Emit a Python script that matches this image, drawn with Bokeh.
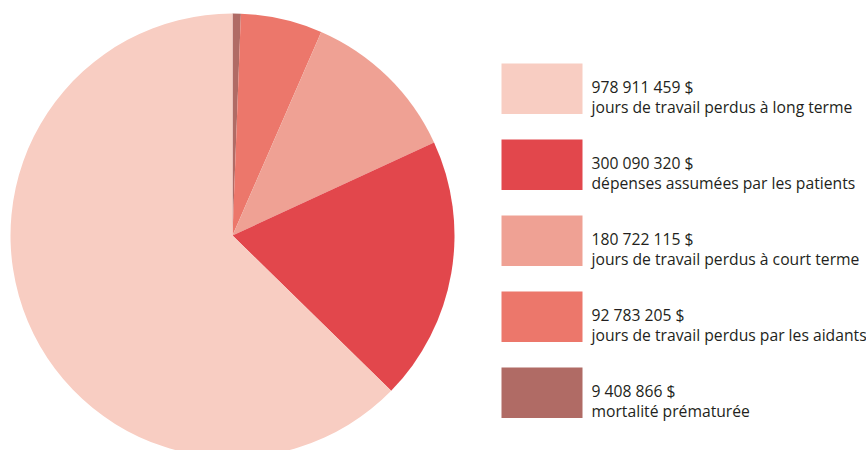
import numpy as np
from bokeh.plotting import figure
from bokeh.models import Range1d, ColumnDataSource
from bokeh.core.properties import value
from bokeh.embed import file_html
from bokeh.resources import INLINE

amounts = [978911459, 300090320, 180722115, 92783205, 9408866]
amount_labels = ["978 911 459 $", "300 090 320 $", "180 722 115 $", "92 783 205 $", "9 408 866 $"]
descriptions = ["jours de travail perdus à long terme",
                "dépenses assumées par les patients",
                "jours de travail perdus à court terme",
                "jours de travail perdus par les aidants",
                "mortalité prématurée"]
colors = ["#F8CDC2", "#E2474C", "#EFA194", "#EC776B", "#B06B65"]

W, H = 866, 450
p = figure(width=W, height=H, output_backend="svg", toolbar_location=None,
           x_range=Range1d(0, W), y_range=Range1d(0, H), min_border=0)
p.axis.visible = False
p.grid.visible = False
p.outline_line_color = None
p.background_fill_color = "white"

# pie: drawn clockwise from 12 o'clock, smallest slice first (reverse order)
vals = np.array(amounts, dtype=float)
frac = vals / vals.sum()
order = list(range(len(vals)))[::-1]
start = np.pi / 2
starts, ends, cols = [], [], []
for i in order:
    a = frac[i] * 2 * np.pi
    starts.append(start - a)
    ends.append(start)
    cols.append(colors[i])
    start -= a
cx, cy, r = 232, H - 235, 222
src = ColumnDataSource(dict(x=[cx] * len(order), y=[cy] * len(order), s=starts, e=ends, c=cols))
p.wedge(x="x", y="y", radius=r, start_angle="s", end_angle="e", fill_color="c",
        line_color=None, source=src)

# legend
n = len(amounts)
box_top = [63 + 76 * k for k in range(n)]
bx = [541.5] * n
by = [H - (t + 25.3) for t in box_top]
p.rect(x=bx, y=by, width=81, height=50.6, fill_color=colors, line_color=None)
tx = [591] * n
fs = "15.7px"
p.text(x=tx, y=[H - (t + 23) for t in box_top], text=amount_labels,
       text_font=value("Open Sans"), text_font_size=fs, text_color="#231F20",
       text_baseline="alphabetic", text_align="left")
p.text(x=tx, y=[H - (t + 43.5) for t in box_top], text=descriptions,
       text_font=value("Open Sans"), text_font_size=fs, text_color="#231F20",
       text_baseline="alphabetic", text_align="left")

open("out.html", "w").write(file_html(p, INLINE))
